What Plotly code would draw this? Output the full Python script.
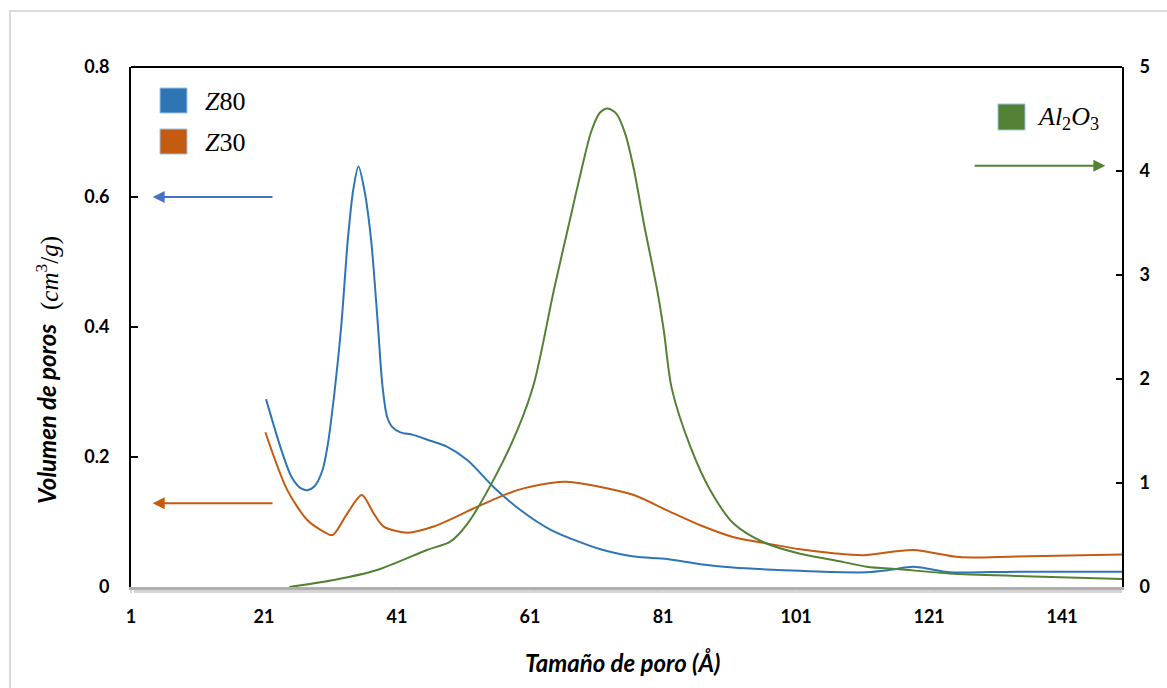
import plotly.graph_objects as go

# Pore size distributions (pore size in Å)
z80_x = [21.3, 23.6, 25.1, 26.5, 27.5, 28.6, 29.8, 30.6, 31.6, 32.6, 33.6, 34.4, 35.2,
         36.1, 37.1, 38.1, 38.8, 39.5, 40.3, 41.5, 43.4, 46.0, 48.5, 51.6, 55.5, 59.6, 64.1,
         71.6, 76.6, 81.6, 86.6, 91.5, 96.6, 101.6, 106.6, 111.6, 115.0, 118.6, 121.5,
         124.1, 134.1, 150.0]
z80_y = [0.289, 0.211, 0.170, 0.152, 0.149, 0.155, 0.180, 0.220, 0.300, 0.400, 0.534, 0.610, 0.647,
         0.610, 0.534, 0.406, 0.310, 0.262, 0.246, 0.238, 0.234, 0.225, 0.216, 0.195, 0.154, 0.118, 0.088,
         0.058, 0.047, 0.043, 0.035, 0.030, 0.027, 0.025, 0.023, 0.0226, 0.026, 0.031, 0.027,
         0.0226, 0.0236, 0.0236]

z30_x = [21.2, 24.5, 27.5, 29.5, 31.3, 33.5, 35.7, 37.5, 39.0, 42.6, 46.5, 53.6, 59.1, 64.1,
         66.5, 71.6, 76.6, 81.6, 86.6, 91.5, 96.6, 101.6, 106.6, 111.1, 118.6, 125.6,
         134.1, 150.0]
z30_y = [0.238, 0.149, 0.103, 0.088, 0.080, 0.113, 0.1415, 0.113, 0.093, 0.0836, 0.093, 0.126, 0.149, 0.160,
         0.162, 0.154, 0.1415, 0.118, 0.095, 0.077, 0.067, 0.058, 0.052, 0.049, 0.057, 0.046,
         0.047, 0.050]

al2o3_x = [24.8, 31.5, 38.0, 45.5, 49.0, 51.6, 55.5, 59.1, 61.6, 64.6, 67.1, 68.5, 70.2, 71.5,
           72.7, 74.0, 75.3, 76.6, 78.1, 80.1, 81.1, 82.3, 85.1, 88.1, 91.6, 96.1, 101.6,
           106.6, 111.6, 116.6, 124.1, 134.1, 150.0]
al2o3_y = [0.0, 0.067, 0.163, 0.356, 0.436, 0.61, 1.03, 1.51, 1.96, 2.86, 3.56, 3.95, 4.38, 4.56,
           4.60, 4.55, 4.36, 4.02, 3.50, 2.86, 2.47, 1.91, 1.35, 0.93, 0.61, 0.43, 0.32,
           0.26, 0.195, 0.17, 0.13, 0.106, 0.077]

x_ticks = [1, 21, 41, 61, 81, 101, 121, 141]
left_ticks = [0, 0.2, 0.4, 0.6, 0.8]
right_ticks = [0, 1, 2, 3, 4, 5]

BLUE = "#2E75B6"
ORANGE = "#C55A11"
GREEN = "#548235"
NUM_FONT = dict(family="Lato", size=18, color="black", weight="bold")

fig = go.Figure()
fig.add_trace(go.Scatter(x=z80_x, y=z80_y, mode="lines", name="Z80",
                         line=dict(color=BLUE, width=2, shape="spline", smoothing=0.8)))
fig.add_trace(go.Scatter(x=z30_x, y=z30_y, mode="lines", name="Z30",
                         line=dict(color=ORANGE, width=2, shape="spline", smoothing=0.8)))
fig.add_trace(go.Scatter(x=al2o3_x, y=al2o3_y, mode="lines", name="Al2O3", yaxis="y2",
                         line=dict(color=GREEN, width=2, shape="spline", smoothing=0.8)))

fig.update_layout(
    width=1167, height=688,
    margin=dict(l=131, r=45, t=67, b=101),
    paper_bgcolor="white", plot_bgcolor="white",
    showlegend=False,
    xaxis=dict(range=[1, 150], tickvals=x_ticks, ticktext=[str(v) for v in x_ticks],
               showgrid=False, zeroline=False, showline=True, linecolor="#AFAFAF", linewidth=3,
               ticks="outside", ticklen=3, tickcolor="#D9D9D9", tickwidth=2,
               tickfont=NUM_FONT, ticklabelstandoff=8),
    yaxis=dict(range=[0, 0.8], tickvals=left_ticks, ticktext=["0", "0.2", "0.4", "0.6", "0.8"],
               showgrid=False, zeroline=False, showline=True, linecolor="black", linewidth=2,
               ticks="inside", ticklen=7, tickcolor="black", tickwidth=2,
               tickfont=NUM_FONT, ticklabelstandoff=16),
    yaxis2=dict(range=[0, 5], tickvals=right_ticks, overlaying="y", side="right",
                showgrid=False, zeroline=False, showline=True, linecolor="black", linewidth=2,
                ticks="inside", ticklen=6, tickcolor="black", tickwidth=2,
                tickfont=NUM_FONT, ticklabelstandoff=12),
)

shapes = [
    # outer light frame
    dict(type="rect", xref="paper", yref="paper", x0=-0.1221, x1=1.2, y0=-0.5, y1=1.1077,
         line=dict(color="#DADADA", width=2), fillcolor="rgba(0,0,0,0)", layer="below"),
    # top border of plot area
    dict(type="line", xref="paper", yref="paper", x0=0, x1=1, y0=1, y1=1,
         line=dict(color="black", width=2)),
    # soft shadow under category axis
    dict(type="line", xref="paper", yref="paper", x0=0.003, x1=1.0, y0=-0.0085, y1=-0.0085,
         line=dict(color="#D4D4D4", width=3), layer="below"),
    # legend swatches
    dict(type="rect", xref="paper", yref="paper",
         x0=(160 - 131) / 991, x1=(187 - 131) / 991, y0=(587 - 113) / 520, y1=(587 - 88) / 520,
         fillcolor=BLUE, line=dict(color="#9DC3E6", width=1)),
    dict(type="rect", xref="paper", yref="paper",
         x0=(160 - 131) / 991, x1=(187 - 131) / 991, y0=(587 - 154) / 520, y1=(587 - 129) / 520,
         fillcolor=ORANGE, line=dict(color="#9DC3E6", width=1)),
    dict(type="rect", xref="paper", yref="paper",
         x0=(998 - 131) / 991, x1=(1025 - 131) / 991, y0=(587 - 130) / 520, y1=(587 - 104) / 520,
         fillcolor=GREEN, line=dict(color="#9DC3E6", width=1)),
]
fig.update_layout(shapes=shapes)

LEG_FONT = dict(family="Liberation Serif", size=26, color="black")
TITLE_FONT = dict(family="Lato", size=24, color="black", weight="bold", style="italic")
annotations = [
    dict(text="<i>Z</i>80", xref="paper", yref="paper", x=(203 - 131) / 991, y=(587 - 101) / 520,
         xanchor="left", yanchor="middle", showarrow=False, font=LEG_FONT),
    dict(text="<i>Z</i>30", xref="paper", yref="paper", x=(203 - 131) / 991, y=(587 - 142) / 520,
         xanchor="left", yanchor="middle", showarrow=False, font=LEG_FONT),
    dict(text="<i>Al</i><sub>2</sub><i>O</i><sub>3</sub>", xref="paper", yref="paper",
         x=(1035 - 131) / 991, y=(587 - 118) / 520,
         xanchor="left", yanchor="middle", showarrow=False, font=LEG_FONT),
    # axis titles
    dict(text="Tamaño de poro (Å)", xref="paper", yref="paper",
         x=(622 - 131) / 991, y=(587 - 662) / 520, xanchor="center", yanchor="middle",
         showarrow=False, font=TITLE_FONT),
    dict(text="Volumen de poros", xref="paper", yref="paper",
         x=(46 - 131) / 991, y=(587 - 414) / 520, xanchor="center", yanchor="middle",
         textangle=-90, showarrow=False, font=TITLE_FONT),
    dict(text="(<i>cm</i><sup>3</sup>/<i>g</i>)", xref="paper", yref="paper",
         x=(47 - 131) / 991, y=(587 - 273) / 520, xanchor="center", yanchor="middle",
         textangle=-90, showarrow=False, font=dict(family="Liberation Serif", size=25, color="black")),
    # arrows pointing to each series' axis
    dict(text="", x=4.26, y=0.6, xref="x", yref="y", ax=22.5, ay=0.6, axref="x", ayref="y",
         showarrow=True, arrowhead=2, arrowsize=1.2, arrowwidth=2, arrowcolor="#4472C4"),
    dict(text="", x=4.26, y=0.1288, xref="x", yref="y", ax=22.5, ay=0.1288, axref="x", ayref="y",
         showarrow=True, arrowhead=2, arrowsize=1.2, arrowwidth=2, arrowcolor=ORANGE),
    dict(text="", x=147.5, y=4.05, xref="x", yref="y2", ax=127.6, ay=4.05, axref="x", ayref="y2",
         showarrow=True, arrowhead=2, arrowsize=1.2, arrowwidth=2, arrowcolor=GREEN),
]
fig.update_layout(annotations=annotations)

fig.write_html("out.html")
